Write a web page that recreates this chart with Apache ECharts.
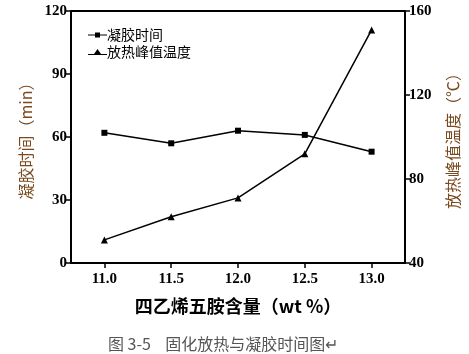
<!DOCTYPE html>
<html>
<head>
<meta charset="utf-8">
<script src="https://cdn.jsdelivr.net/npm/echarts@6/dist/echarts.min.js"></script>
<style>
  html, body { margin: 0; padding: 0; background: #fff; }
  #chart { width: 469px; height: 354px; }
</style>
</head>
<body>
<div id="chart"></div>
<script>
// 四乙烯五胺含量 (wt %)
const contents = ['11.0', '11.5', '12.0', '12.5', '13.0'];
// 凝胶时间 (min)
const gelTime = [62, 57, 63, 61, 53];
// 放热峰值温度 (℃)
const peakTemp = [51, 62, 71, 92, 151];

const chart = echarts.init(document.getElementById('chart'));

const serif = '"Liberation Serif", "Times New Roman", serif';
const cjk = '"Noto Sans CJK SC", sans-serif';
const titleColor = '#7a4a1e';

const axisLine = { show: true, lineStyle: { color: '#000', width: 2 } };
const tickLabel = { color: '#000', fontFamily: serif, fontWeight: 'bold', fontSize: 15 };

chart.setOption({
  animation: false,
  backgroundColor: '#fff',
  grid: { left: 71, right: 64, top: 11, bottom: 91 },
  legend: {
    orient: 'vertical',
    left: 83,
    top: 23,
    itemWidth: 19,
    itemHeight: 8,
    itemGap: 3,
    textStyle: { fontFamily: cjk, fontSize: 14, color: '#000', padding: [0, 0, 0, -5] },
    data: [
      { name: '凝胶时间', icon: 'path://M0,4h7v-2h5v2h7v1h-7v2h-5v-2h-7z' },
      { name: '放热峰值温度', icon: 'path://M0,6h6l3.5,-5l3.5,5h6v1h-19z' }
    ]
  },
  xAxis: {
    type: 'category',
    data: contents,
    boundaryGap: true,
    name: '四乙烯五胺含量（wt %）',
    nameLocation: 'middle',
    nameGap: 34,
    nameTextStyle: { fontFamily: cjk, fontSize: 18, fontWeight: 'bold', color: '#000' },
    axisLine: axisLine,
    axisTick: { show: true, alignWithLabel: true, length: 5, lineStyle: { color: '#000', width: 1.5 } },
    axisLabel: Object.assign({ margin: 9 }, tickLabel),
    splitLine: { show: false }
  },
  yAxis: [
    {
      type: 'value',
      min: 0, max: 120, interval: 30,
      name: '凝胶时间（min）',
      nameLocation: 'middle',
      nameGap: 33,
      nameRotate: 90,
      nameTextStyle: { fontFamily: cjk, fontSize: 16, color: titleColor },
      axisLine: axisLine,
      axisTick: { show: true, length: 5, lineStyle: { color: '#000', width: 1.5 } },
      axisLabel: Object.assign({ margin: 4 }, tickLabel),
      splitLine: { show: false }
    },
    {
      type: 'value',
      min: 40, max: 160, interval: 40,
      name: '放热峰值温度（℃）',
      nameLocation: 'middle',
      nameGap: 40,
      nameRotate: 90,
      nameTextStyle: { fontFamily: cjk, fontSize: 16, color: titleColor },
      axisLine: axisLine,
      axisTick: { show: true, length: 5, lineStyle: { color: '#000', width: 1.5 } },
      axisLabel: Object.assign({ margin: 4 }, tickLabel),
      splitLine: { show: false }
    }
  ],
  graphic: [
    // 顶部边框
    { type: 'line', shape: { x1: 71, y1: 11, x2: 405, y2: 11 }, style: { stroke: '#000', lineWidth: 2 } },
    {
      type: 'text', left: 108, top: 336,
      style: { text: '图 3-5    固化放热与凝胶时间图↵', fontFamily: cjk, fontSize: 16, fill: '#555' }
    }
  ],
  series: [
    {
      name: '凝胶时间',
      type: 'line',
      yAxisIndex: 0,
      data: gelTime,
      symbol: 'rect',
      symbolSize: 6,
      itemStyle: { color: '#000' },
      lineStyle: { color: '#000', width: 1.5 }
    },
    {
      name: '放热峰值温度',
      type: 'line',
      yAxisIndex: 1,
      data: peakTemp,
      symbol: 'triangle',
      symbolSize: 7,
      itemStyle: { color: '#000' },
      lineStyle: { color: '#000', width: 1.5 }
    }
  ]
});
</script>
</body>
</html>
